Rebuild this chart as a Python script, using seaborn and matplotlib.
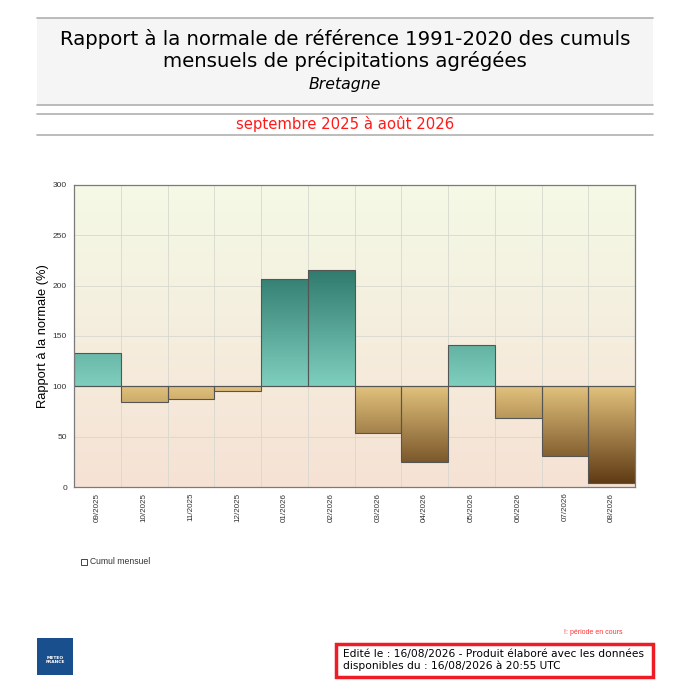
import numpy as np
import pandas as pd
import seaborn as sns
import matplotlib.pyplot as plt
from matplotlib.colors import LinearSegmentedColormap
from matplotlib.patches import Rectangle

# Data
months = ['09/2025', '10/2025', '11/2025', '12/2025', '01/2026', '02/2026',
          '03/2026', '04/2026', '05/2026', '06/2026', '07/2026', '08/2026']
ratio = [133, 84, 87, 95, 207, 216, 54, 25, 141, 69, 31, 4]
yticks = [0, 50, 100, 150, 200, 250, 300]

df = pd.DataFrame({'mois': months, 'ecart': [r - 100 for r in ratio]})

sns.set_style('white')
plt.rcParams['font.family'] = ['DejaVu Sans']
plt.rcParams['text.color'] = 'black'
plt.rcParams['axes.labelcolor'] = 'black'

fig = plt.figure(figsize=(6.9, 6.9), dpi=100)
ax = fig.add_axes([74 / 690, 1 - 487 / 690, 561 / 690, 302 / 690])

ax = sns.barplot(data=df, x='mois', y='ecart', bottom=100, width=1,
                 color='white', edgecolor='#555555', linewidth=0.8, ax=ax,
                 zorder=3)
n = len(months)

# background gradient
bg = LinearSegmentedColormap.from_list('bg', ['#f6e2d5', '#f4f9e6'])
grad = np.linspace(0, 1, 256).reshape(-1, 1)
ax.imshow(grad, cmap=bg, aspect='auto', origin='lower',
          extent=[-0.5, n - 0.5, 0, 300], zorder=0)

# gradient fill of the bars
wet = LinearSegmentedColormap.from_list('wet', ['#7fcfbe', '#2c776a'])
dry = LinearSegmentedColormap.from_list('dry', ['#5a3510', '#e2c27d'])
for p in ax.patches:
    p.set_facecolor('none')
    x0 = p.get_x()
    if p.get_height() >= 0:
        im = ax.imshow(grad, cmap=wet, aspect='auto', origin='lower',
                       extent=[x0, x0 + 1, 100, 220], zorder=2)
    else:
        im = ax.imshow(grad, cmap=dry, aspect='auto', origin='lower',
                       extent=[x0, x0 + 1, 0, 100], zorder=2)
    im.set_clip_path(p)
ax.set_xlim(-0.5, n - 0.5)
ax.set_ylim(0, 300)

# grid (under the bars, over the background)
ax.set_axisbelow(True)
ax.set_xticks(np.arange(-0.5, n), minor=True)
ax.grid(True, which='minor', axis='x', color='#d8d8cf', linewidth=0.6)
ax.set_yticks(yticks)
ax.grid(True, which='major', axis='y', color='#d8d8cf', linewidth=0.6)
ax.axhline(100, color='#555555', linewidth=0.8, zorder=4)

ax.set_xlabel('')
ax.set_ylabel('Rapport à la normale (%)', fontsize=9.3, family='Liberation Sans',
              labelpad=3)
ax.set_xticks(range(n))
ax.set_xticklabels(months, rotation=90, fontsize=5.8, family='Liberation Sans',
                   color='#333333')
ax.set_yticklabels([str(t) for t in yticks], fontsize=6,
                   family='Liberation Sans', color='#333333')
ax.tick_params(axis='y', which='major', length=3, width=0.6, color='#555555', pad=2)
ax.tick_params(axis='x', which='both', length=0, pad=4)
for s in ax.spines.values():
    s.set_color('#7a7a7a')
    s.set_linewidth(0.9)
    s.set_zorder(5)

# header
fig.patches.append(Rectangle((37 / 690, 1 - 105 / 690), 616 / 690, 87 / 690,
                             transform=fig.transFigure, facecolor='#f5f5f5',
                             edgecolor='none', zorder=0))
for yy in [18, 105, 114, 135]:
    fig.add_artist(plt.Line2D([37 / 690, 653 / 690], [1 - yy / 690] * 2,
                              color='#b0b0b0', linewidth=1.2))
fig.text(0.5, 1 - 39 / 690, 'Rapport à la normale de référence 1991-2020 des cumuls',
         ha='center', va='center', fontsize=14.2)
fig.text(0.5, 1 - 61 / 690, 'mensuels de précipitations agrégées',
         ha='center', va='center', fontsize=14.2)
fig.text(0.5, 1 - 84 / 690, 'Bretagne', ha='center', va='center',
         fontsize=11.3, style='italic')
fig.text(0.5, 1 - 124 / 690, 'septembre 2025 à août 2026', ha='center',
         va='center', fontsize=10.7, color='#ff1a1a')

# legend
fig.add_artist(Rectangle((81 / 690, 1 - 565 / 690), 6 / 690, 6 / 690,
                         transform=fig.transFigure, facecolor='white',
                         edgecolor='#444444', linewidth=0.7))
fig.text(90 / 690, 1 - 562 / 690, 'Cumul mensuel', ha='left', va='center',
         fontsize=6.2, family='Liberation Sans', color='#333333')

# footer
fig.text(623 / 690, 1 - 632 / 690, '!: période en cours', ha='right', va='center',
         fontsize=5, family='Liberation Sans', color='#ff3333')
fig.add_artist(Rectangle((336 / 690, 1 - 677 / 690), 317 / 690, 33 / 690,
                         transform=fig.transFigure, facecolor='white',
                         edgecolor='#ee1c24', linewidth=2.5))
fig.text(343 / 690, 1 - 660 / 690,
         'Edité le : 16/08/2026 - Produit élaboré avec les données\n'
         'disponibles du : 16/08/2026 à 20:55 UTC',
         ha='left', va='center', fontsize=7.7, linespacing=1.1)

# logo
fig.add_artist(Rectangle((37 / 690, 1 - 675 / 690), 36 / 690, 37 / 690,
                         transform=fig.transFigure, facecolor='#1a4f8e',
                         edgecolor='none'))
fig.text(55 / 690, 1 - 660 / 690, 'METEO\nFRANCE', ha='center', va='center',
         fontsize=3.2, color='white', weight='bold', linespacing=1.0)

fig.savefig('out.png', dpi=100, facecolor='white')
